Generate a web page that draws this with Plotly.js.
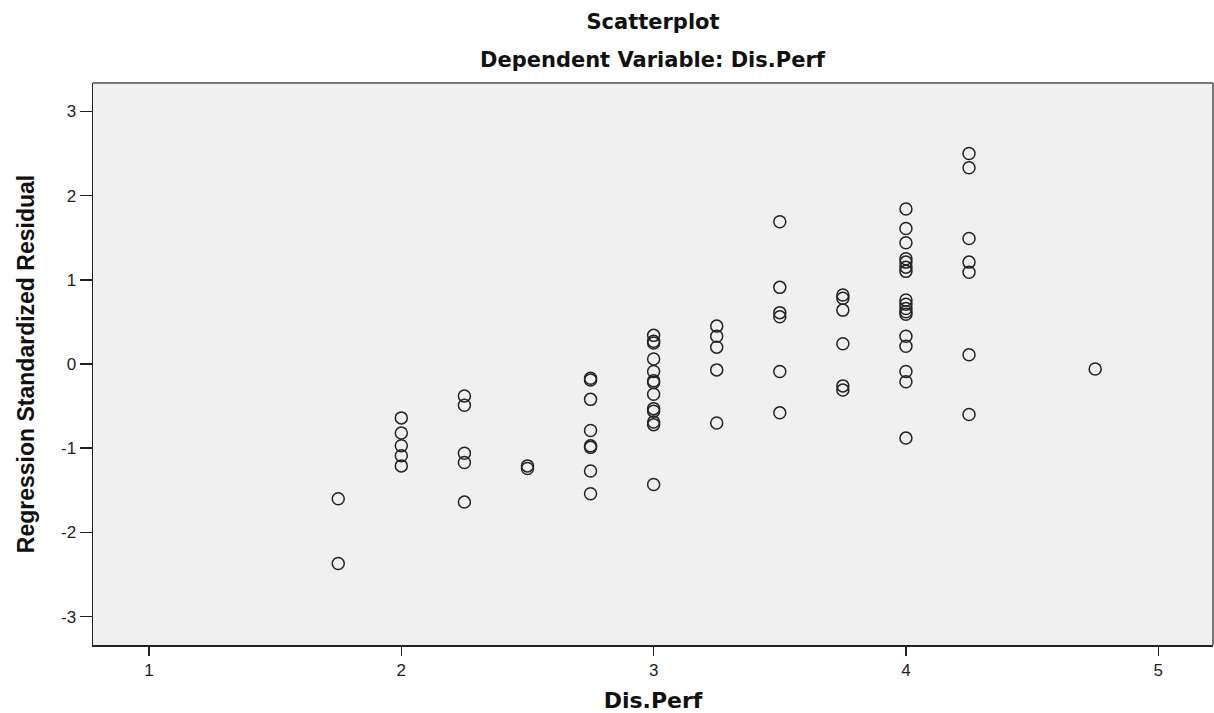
<!DOCTYPE html>
<html>
<head>
<meta charset="utf-8">
<script src="https://cdn.plot.ly/plotly-3.0.1.min.js"></script>
<style>html,body{margin:0;padding:0;background:#fff;}#chart{width:1214px;height:713px;}</style>
</head>
<body>
<div id="chart"></div>
<script>
// Dis.Perf (x) and Regression Standardized Residual (y)
var disPerf = [
  1.75, 1.75,
  2, 2, 2, 2, 2,
  2.25, 2.25, 2.25, 2.25, 2.25,
  2.5, 2.5,
  2.75, 2.75, 2.75, 2.75, 2.75, 2.75, 2.75, 2.75,
  3, 3, 3, 3, 3, 3, 3, 3, 3, 3, 3, 3, 3,
  3.25, 3.25, 3.25, 3.25, 3.25,
  3.5, 3.5, 3.5, 3.5, 3.5, 3.5,
  3.75, 3.75, 3.75, 3.75, 3.75, 3.75,
  4, 4, 4, 4, 4, 4, 4, 4, 4, 4, 4, 4, 4, 4, 4, 4, 4,
  4.25, 4.25, 4.25, 4.25, 4.25, 4.25, 4.25,
  4.75
];
var stdResidual = [
  -1.60, -2.37,
  -0.64, -0.82, -0.97, -1.09, -1.21,
  -0.38, -0.49, -1.06, -1.17, -1.64,
  -1.21, -1.24,
  -0.17, -0.19, -0.42, -0.79, -0.97, -0.99, -1.27, -1.54,
  0.34, 0.27, 0.25, 0.06, -0.09, -0.20, -0.22, -0.36, -0.53, -0.56, -0.69, -0.72, -1.43,
  0.45, 0.33, 0.20, -0.07, -0.70,
  1.69, 0.91, 0.61, 0.56, -0.09, -0.58,
  0.82, 0.78, 0.64, 0.24, -0.26, -0.31,
  1.84, 1.61, 1.44, 1.25, 1.21, 1.15, 1.10, 0.76, 0.71, 0.66, 0.62, 0.59, 0.33, 0.21, -0.09, -0.21, -0.88,
  2.50, 2.33, 1.49, 1.21, 1.09, 0.11, -0.60,
  -0.06
];
var xTickVals = [1, 2, 3, 4, 5];
var xTickText = ['1', '2', '3', '4', '5'];
var yTickVals = [-3, -2, -1, 0, 1, 2, 3];
var yTickText = ['-3', '-2', '-1', '0', '1', '2', '3'];

var FONT = 'Liberation Sans, Arial, Helvetica, sans-serif';
var TFONT = 'DejaVu Sans, Liberation Sans, Arial, sans-serif';

var trace = {
  type: 'scatter',
  mode: 'markers',
  x: disPerf,
  y: stdResidual,
  marker: {
    symbol: 'circle-open',
    size: 12,
    color: '#222222',
    line: {width: 1.5, color: '#222222'}
  },
  hoverinfo: 'x+y'
};

var layout = {
  width: 1214,
  height: 713,
  margin: {l: 93, r: 1, t: 83, b: 68, pad: 0},
  paper_bgcolor: '#ffffff',
  plot_bgcolor: '#f0f0f0',
  showlegend: false,
  font: {family: FONT, color: '#222'},
  title: {
    text: '<b>Scatterplot</b>',
    font: {family: TFONT, size: 21, color: '#111'},
    x: 0.5, xref: 'paper', xanchor: 'center',
    y: 1 - 22 / 713, yref: 'container', yanchor: 'middle'
  },
  annotations: [{
    text: '<b>Dependent Variable: Dis.Perf</b>',
    font: {family: TFONT, size: 21, color: '#111'},
    xref: 'paper', yref: 'paper', x: 0.5, y: 1,
    xanchor: 'center', yanchor: 'middle', yshift: 23,
    showarrow: false
  }],
  xaxis: {
    range: [0.778, 5.217],
    tickmode: 'array', tickvals: xTickVals, ticktext: xTickText,
    ticks: 'outside', ticklen: 9, tickwidth: 1.5, tickcolor: '#222',
    tickfont: {family: FONT, size: 17, color: '#222'},
    showgrid: false, zeroline: false,
    showline: true, linecolor: '#222', linewidth: 1.5,
    title: {text: '<b>Dis.Perf</b>', font: {family: TFONT, size: 22, color: '#111'}, standoff: 17},
    fixedrange: true
  },
  yaxis: {
    range: [-3.337, 3.337],
    tickmode: 'array', tickvals: yTickVals, ticktext: yTickText,
    ticks: 'outside', ticklen: 12, tickwidth: 1.5, tickcolor: '#222',
    tickfont: {family: FONT, size: 17, color: '#222'},
    showgrid: false, zeroline: false,
    showline: true, linecolor: '#222', linewidth: 1.5,
    title: {text: '<b>Regression Standardized Residual</b>', font: {family: FONT, size: 23, color: '#111'}, standoff: 20},
    fixedrange: true
  },
  shapes: [
    {type: 'line', xref: 'paper', yref: 'paper', x0: 0, x1: 1, y0: 1, y1: 1, line: {color: '#777', width: 2}},
    {type: 'line', xref: 'paper', yref: 'paper', x0: 1, x1: 1, y0: 0, y1: 1, line: {color: '#777', width: 2}}
  ]
};

Plotly.newPlot('chart', [trace], layout, {displayModeBar: false, staticPlot: true});
</script>
</body>
</html>
